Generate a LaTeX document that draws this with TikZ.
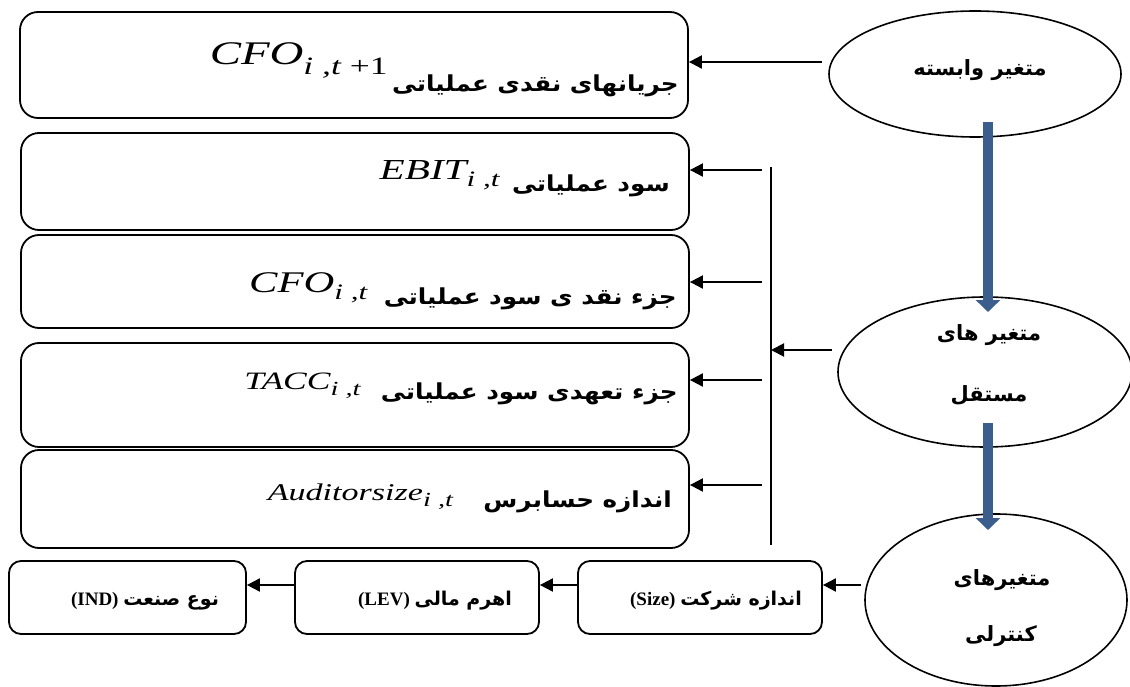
\documentclass[tikz,border=0pt]{standalone}
\usepackage{fontspec}
\setmainfont{Liberation Serif}
\newfontfamily\fa[Script=Arabic]{DejaVu Sans}
\TeXXeTstate=1
\usetikzlibrary{arrows.meta,shapes.geometric}
\definecolor{flowblue}{HTML}{3B5E8C}
\tikzset{
  bigbox/.style={draw, line width=1.8pt, rounded corners=18pt, inner sep=0pt},
  smallbox/.style={draw, line width=1.8pt, rounded corners=12pt, inner sep=0pt, minimum height=73pt},
  oval/.style={draw, line width=1.6pt, ellipse, inner sep=0pt},
  conn/.style={line width=2pt, -{Triangle[length=13pt,width=13pt]}},
  plain/.style={line width=1.6pt},
  bluearrow/.style={flowblue, line width=10pt, -{Triangle[length=12pt,width=24pt]}},
  per/.style={inner sep=0pt, anchor=base east},
  lat/.style={inner sep=0pt, anchor=base east},
  oval text/.style={inner sep=0pt},
}
\newcommand{\pers}[1]{{\upshape\fa\bfseries\beginR #1\endR}}
\newcommand{\hs}[1]{\scalebox{1.42}[1]{#1}}
\newcommand{\ps}[1]{\scalebox{1.12}[1]{\fontsize{22}{22}\selectfont\pers{#1}}}
\newcommand{\fs}[1]{\fontsize{#1}{#1}\selectfont}
\begin{document}
\begin{tikzpicture}[x=1pt,y=-1pt]
\useasboundingbox (0,0) rectangle (1130,687);
% big boxes
\node[bigbox, minimum width=668pt, minimum height=106pt] (b1) at (354,65) {};
\node[bigbox, minimum width=668pt, minimum height=97pt] (b2) at (355,181.5) {};
\node[bigbox, minimum width=668pt, minimum height=93pt] (b3) at (355,281.5) {};
\node[bigbox, minimum width=668pt, minimum height=104pt] (b4) at (355,395) {};
\node[bigbox, minimum width=668pt, minimum height=98pt] (b5) at (355,499) {};
% box texts: Persian part
\node[per] (p1) at (679,92) {\ps{جریانهای  نقدی عملیاتی}};
\node[per] (p2) at (670,192) {\ps{سود عملیاتی}};
\node[per] (p3) at (677,304) {\ps{جزء نقد ی سود عملیاتی}};
\node[per] (p4) at (678,399) {\ps{جزء  تعهدی سود عملیاتی}};
\node[per] (p5) at (672,507) {\ps{اندازه  حسابرس}};
% box texts: Latin part
\node[lat] (l1) at ([xshift=-4pt,yshift=27pt]p1.base west) {\hs{\fs{33}\itshape CFO\raisebox{-10pt}{\fs{25}i ,t \upshape+1}}};
\node[lat] (l2) at ([xshift=-12pt,yshift=12pt]p2.base west) {\hs{\fs{29}\itshape EBIT\raisebox{-7pt}{\fs{22}i ,t}}};
\node[lat] (l3) at ([xshift=-16pt,yshift=12pt]p3.base west) {\hs{\fs{30}\itshape CFO\raisebox{-7pt}{\fs{22}i ,t}}};
\node[lat] (l4) at ([xshift=-20pt,yshift=10pt]p4.base west) {\hs{\fs{25}\itshape TACC\raisebox{-6pt}{\fs{20}i ,t}}};
\node[lat] (l5) at ([xshift=-30pt,yshift=7pt]p5.base west) {\hs{\fs{24}\itshape Auditorsize\raisebox{-6pt}{\fs{20}i ,t}}};
% ellipses
\node[oval, minimum width=292pt, minimum height=126pt] (e1) at (975,74) {};
\node[oval text] (e1t) at (980,70) {\fs{21}\pers{متغیر وابسته}};
\node[oval, minimum width=294pt, minimum height=150pt] (e2) at (985,372) {};
\node[oval text] (e2a) at (989,335) {\fs{21}\pers{متغیر های}};
\node[oval text] (e2b) at (989,395) {\fs{21}\pers{مستقل}};
\node[oval, minimum width=262pt, minimum height=172pt] (e3) at (996,600) {};
\node[oval text] (e3a) at (1002,580) {\fs{21}\pers{متغیرهای}};
\node[oval text] (e3b) at (1001,636) {\fs{21}\pers{کنترلی}};
% small boxes
\node[smallbox, minimum width=244pt] (s1) at (700,597.5) {};
\node[smallbox, minimum width=244pt] (s2) at (417,597.5) {};
\node[smallbox, minimum width=237pt] (s3) at (127.5,597.5) {};
\node[inner sep=0pt] (s1t) at (716,601) {\fs{19}\bfseries (Size)~\pers{اندازه شرکت}};
\node[inner sep=0pt] (s2t) at (435,601) {\fs{19}\bfseries (LEV)~\pers{اهرم مالی}};
\node[inner sep=0pt] (s3t) at (145,601) {\fs{19}\bfseries (IND)~\pers{نوع صنعت}};
% vertical bus
\coordinate (vtop) at (771,167);
\coordinate (vbot) at (771,545);
\draw[plain] (vtop) -- (vbot);
\coordinate (a2) at (762,170);
\coordinate (a3) at (762,282);
\coordinate (a4) at (762,380);
\coordinate (a5) at (762,485);
\draw[conn] (a2) -- (b2.east |- a2);
\draw[conn] (a3) -- (b3.east |- a3);
\draw[conn] (a4) -- (b4.east |- a4);
\draw[conn] (a5) -- (b5.east |- a5);
\coordinate (e2l) at (832,350);
\draw[conn] (e2l) -- (vtop |- e2l);
\coordinate (e1l) at (822,62);
\draw[conn] (e1l) -- (b1.east |- e1l);
\coordinate (e3l) at (861,585);
\draw[conn] (e3l) -- (s1.east |- e3l);
\draw[conn] (s1.west |- e3l) -- (s2.east |- e3l);
\draw[conn] (s2.west |- e3l) -- (s3.east |- e3l);
% blue arrows
\coordinate (bl1) at (988,122);
\coordinate (bl1e) at (988,312);
\coordinate (bl2) at (988,423);
\coordinate (bl2e) at (988,530);
\draw[bluearrow] (bl1) -- (bl1e);
\draw[bluearrow] (bl2) -- (bl2e);
\end{tikzpicture}
\end{document}
